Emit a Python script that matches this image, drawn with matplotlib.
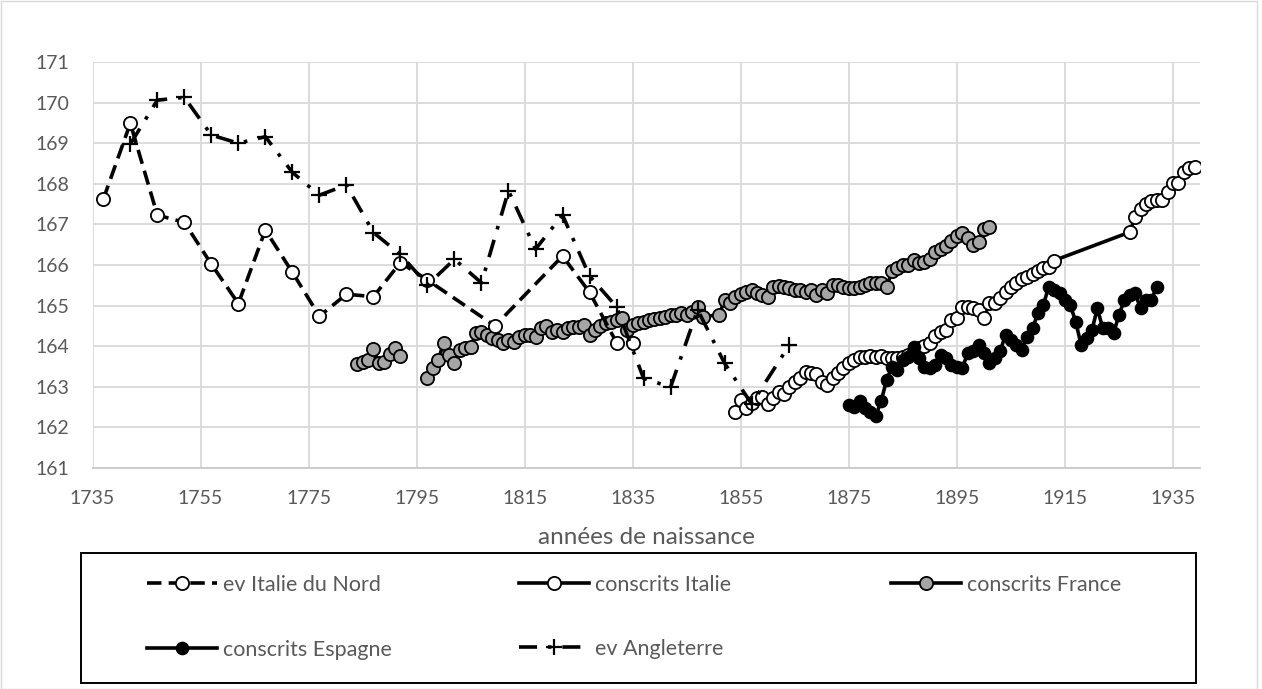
import numpy as np
import matplotlib
matplotlib.use("Agg")
import matplotlib.pyplot as plt
from matplotlib.patches import Rectangle

plt.rcParams['font.family'] = ['Lato', 'DejaVu Sans']

# ---------------- data ----------------
nord_years = [1737, 1742, 1747, 1752, 1757, 1762, 1767, 1772, 1777, 1782, 1787, 1792,
              1797, 1809.5, 1822, 1827, 1832, 1835]
nord_vals = [167.62, 169.49, 167.23, 167.05, 166.02, 165.05, 166.86, 165.82, 164.74, 165.28,
             165.22, 166.06, 165.63, 164.50, 166.22, 165.33, 164.09, 164.09]

angl_years = [1742, 1747, 1752, 1757, 1762, 1767, 1772, 1777, 1782, 1787, 1792, 1797, 1802,
              1807, 1812, 1817, 1822, 1827, 1832, 1837, 1842, 1847, 1852, 1857, 1864]
angl_vals = [168.98, 170.06, 170.13, 169.20, 169.00, 169.16, 168.28, 167.72, 167.97, 166.80,
             166.26, 165.51, 166.14, 165.56, 167.83, 166.39, 167.23, 165.73, 164.97, 163.21,
             162.99, 164.90, 163.58, 162.58, 164.03]

fr1_years = list(range(1784, 1793))
fr1_vals = [163.55, 163.62, 163.66, 163.93, 163.58, 163.60, 163.82, 163.95, 163.76]
fr2_years = list(range(1797, 1849)) + list(range(1851, 1902))
fr2_vals = [163.21, 163.46, 163.66, 164.09, 163.78, 163.59, 163.91, 163.95, 163.99, 164.32,
            164.36, 164.28, 164.19, 164.15, 164.07, 164.15, 164.11, 164.23, 164.28, 164.28,
            164.22, 164.44, 164.50, 164.36, 164.40, 164.36, 164.44, 164.48, 164.48, 164.52,
            164.28, 164.40, 164.50, 164.56, 164.60, 164.65, 164.69, 164.40, 164.52, 164.56,
            164.60, 164.65, 164.66, 164.69, 164.73, 164.77, 164.77, 164.81, 164.77, 164.85,
            164.97, 164.73,
            164.77, 165.14, 165.06, 165.22, 165.29, 165.34, 165.38, 165.30, 165.26, 165.22,
            165.47, 165.48, 165.47, 165.43, 165.38, 165.38, 165.34, 165.38, 165.26, 165.38,
            165.30, 165.51, 165.51, 165.47, 165.43, 165.43, 165.47, 165.51, 165.55, 165.56,
            165.55, 165.47, 165.84, 165.92, 166.00, 166.00, 166.12, 166.04, 166.08, 166.16,
            166.33, 166.40, 166.48, 166.60, 166.71, 166.78, 166.66, 166.49, 166.57, 166.88,
            166.93]

ita_years = list(range(1854, 1914)) + list(range(1927, 1940))
ita_vals = [162.37, 162.67, 162.47, 162.59, 162.72, 162.76, 162.58, 162.72, 162.88, 162.82,
            163.00, 163.13, 163.21, 163.37, 163.33, 163.31, 163.13, 163.04, 163.21, 163.35,
            163.46, 163.58, 163.66, 163.74, 163.73, 163.76, 163.73, 163.76, 163.70, 163.70,
            163.72, 163.74, 163.78, 163.85, 163.95, 164.00, 164.07, 164.25, 164.36, 164.40,
            164.65, 164.69, 164.97, 164.96, 164.93, 164.89, 164.69, 165.06, 165.06, 165.18,
            165.34, 165.45, 165.55, 165.65, 165.71, 165.78, 165.84, 165.92, 165.96, 166.11,
            166.81, 167.19, 167.37, 167.50, 167.58, 167.60, 167.60, 167.81, 168.01, 168.01,
            168.30, 168.38, 168.41]

esp_years = list(range(1875, 1933))
esp_vals = [162.55, 162.51, 162.66, 162.47, 162.39, 162.29, 162.66, 163.17, 163.50, 163.41,
            163.66, 163.74, 163.99, 163.70, 163.50, 163.46, 163.54, 163.78, 163.70, 163.54,
            163.50, 163.46, 163.83, 163.87, 164.03, 163.83, 163.58, 163.70, 163.87, 164.28,
            164.15, 164.03, 163.91, 164.23, 164.44, 164.81, 165.01, 165.47, 165.38, 165.30,
            165.14, 165.01, 164.60, 164.03, 164.19, 164.40, 164.93, 164.44, 164.44, 164.32,
            164.77, 165.14, 165.26, 165.30, 164.93, 165.14, 165.14, 165.47]

x_ticks = list(range(1735, 1936, 20))
y_ticks = list(range(161, 172))

labels = {
    'nord': 'ev Italie du Nord',
    'ita': 'conscrits Italie',
    'fr': 'conscrits France',
    'esp': 'conscrits Espagne',
    'angl': 'ev Angleterre',
}

# ---------------- figure ----------------
W, H = 1262, 689
fig = plt.figure(figsize=(W / 100, H / 100), dpi=100)
L, R, T, B = 92.5, 1200, 62, 468
ax = fig.add_axes([L / W, 1 - B / H, (R - L) / W, (B - T) / H])

TXT = '#595959'
GRID = '#d9d9d9'
LW = 2.6
MS = 9.5
MEW = 1.3

fr_years = fr1_years + [np.nan] + fr2_years
fr_vals = fr1_vals + [np.nan] + fr2_vals

h_fr, = ax.plot(fr_years, fr_vals, '-', color='black', lw=LW, marker='o', ms=MS,
                mfc='#a5a5a5', mec='black', mew=MEW, zorder=3, label=labels['fr'])
h_nord, = ax.plot(nord_years, nord_vals, color='black', lw=LW, ls=(0, (4, 2)), marker='o',
                  ms=MS, mfc='white', mec='black', mew=MEW, zorder=4, label=labels['nord'])
h_ita, = ax.plot(ita_years, ita_vals, '-', color='black', lw=LW, marker='o', ms=MS,
                 mfc='white', mec='black', mew=MEW, zorder=5, label=labels['ita'])
h_esp, = ax.plot(esp_years, esp_vals, '-', color='black', lw=LW, marker='o', ms=8.5,
                 mfc='black', mec='black', mew=MEW, zorder=6, label=labels['esp'])
h_angl, = ax.plot(angl_years, angl_vals, color='black', lw=LW, ls=(0, (5, 3, 1, 3)),
                  marker='+', ms=11, mew=1.6, mec='black', zorder=7, label=labels['angl'])

ax.set_xlim(1735, 1940)
ax.set_ylim(161, 171)
ax.set_xticks(x_ticks)
ax.set_yticks(y_ticks)
ax.grid(True, color=GRID, lw=1.3, zorder=0)
ax.set_axisbelow(True)
for s in ['top', 'right', 'left']:
    ax.spines[s].set_visible(False)
ax.spines['bottom'].set_color('#c8c8c8')
ax.spines['bottom'].set_linewidth(1.3)
ax.tick_params(axis='both', length=0, labelsize=14, labelcolor=TXT)
ax.tick_params(axis='y', pad=17)
ax.tick_params(axis='x', pad=16)

fig.text(646 / W, 1 - 538 / H, 'années de naissance', ha='center', va='center',
         fontsize=17.5, color=TXT)

# legend frame
fig.add_artist(Rectangle((80.5 / W, 1 - 683 / H), (1196 - 80.5) / W, (683 - 553) / H,
                         transform=fig.transFigure, fill=False, edgecolor='black', lw=1.4))
# outer chart border
fig.add_artist(Rectangle((0.5 / W, 0.5 / H), (1256.5) / W, (688) / H,
                         transform=fig.transFigure, fill=False, edgecolor=GRID, lw=1.0))

LFS = 15.5
fs_px = LFS * 100 / 72
entries = [(h_nord, 147, 585), (h_ita, 519, 585), (h_fr, 891, 585),
           (h_esp, 147, 650), (h_angl, 519, 649)]
for h, x, y in entries:
    fig.legend(handles=[h], labels=[h.get_label()], loc='center left',
               bbox_to_anchor=(x / W, 1 - y / H), bbox_transform=fig.transFigure,
               frameon=False, borderpad=0, borderaxespad=0,
               handlelength=70 / fs_px, handletextpad=6 / fs_px, fontsize=LFS,
               labelcolor=TXT)

fig.savefig('out.png', dpi=100)
